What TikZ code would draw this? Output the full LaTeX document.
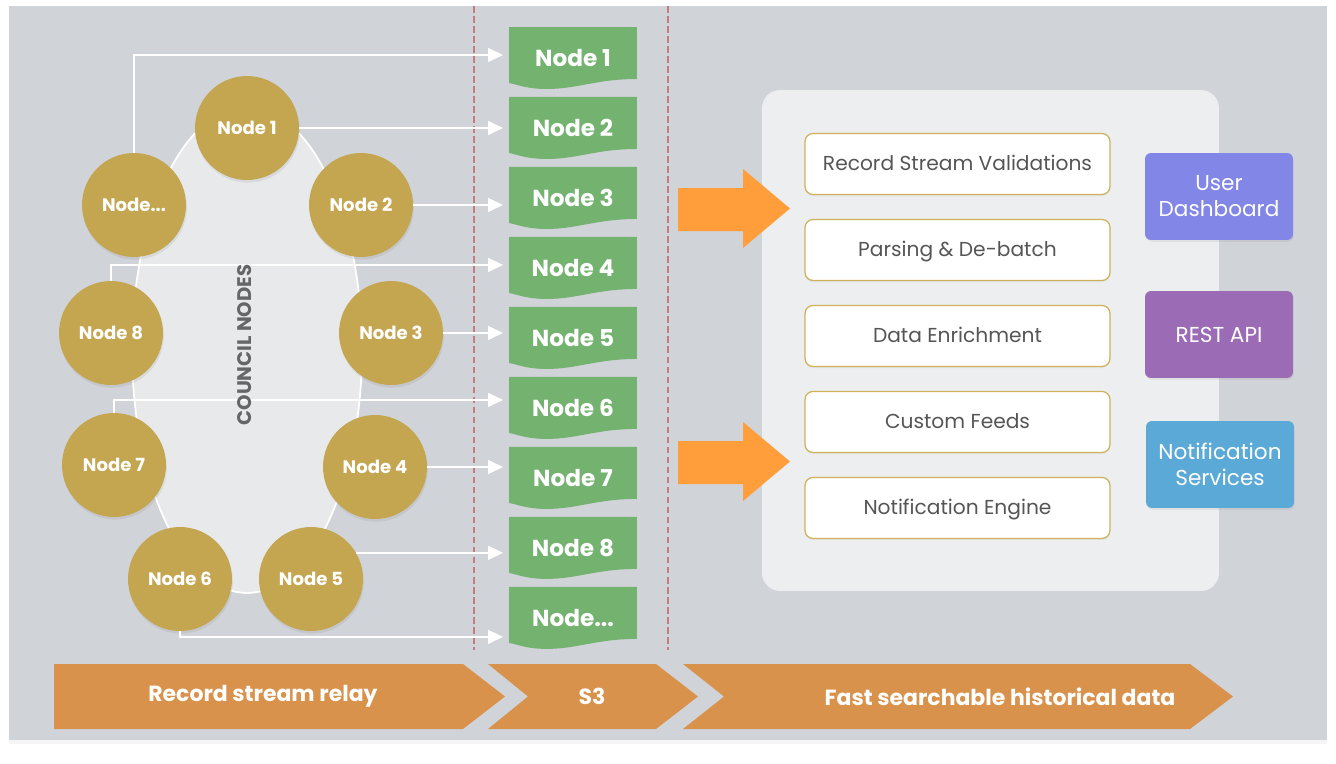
\documentclass[tikz,border=0pt]{standalone}
\usepackage{fontspec}
\setmainfont{Poppins}
\usetikzlibrary{positioning,arrows.meta,calc,shapes.geometric,shadows}
\definecolor{BgGray}{RGB}{208,211,216}
\definecolor{EllipseGray}{RGB}{232,233,235}
\definecolor{CouncilGold}{RGB}{196,165,80}
\definecolor{DocGreen}{RGB}{116,178,112}
\definecolor{SepRed}{RGB}{197,123,132}
\definecolor{ArrowOrange}{RGB}{255,158,58}
\definecolor{PanelGray}{RGB}{236,238,240}
\definecolor{BoxGold}{RGB}{208,176,88}
\definecolor{TextGray}{RGB}{85,85,85}
\definecolor{LabelGray}{RGB}{102,102,102}
\definecolor{DashBlue}{RGB}{130,134,230}
\definecolor{RestPurple}{RGB}{155,107,181}
\definecolor{NotifBlue}{RGB}{90,169,214}
\definecolor{ChevronOrange}{RGB}{216,146,75}
\tikzset{
  council/.style={circle,fill=CouncilGold,minimum size=2.08cm,inner sep=0pt,text=white,
    font=\fontsize{10.3}{12}\selectfont\bfseries,
    drop shadow={opacity=0.15,shadow xshift=0.5pt,shadow yshift=-1.5pt}},
  docnode/.style={minimum width=2.56cm,minimum height=1.24cm,inner sep=0pt,outer sep=0pt,text=white,
    font=\fontsize{13.2}{15}\selectfont\bfseries,
    path picture={
      \fill[DocGreen] (path picture bounding box.north west) -- (path picture bounding box.north east)
        -- ([yshift=0.2cm]path picture bounding box.south east)
        .. controls +(-40,0) and +(30,0) .. ([xshift=0.76cm]path picture bounding box.south west)
        .. controls +(-20,0) and +(10,2) .. ([yshift=0.12cm]path picture bounding box.south west)
        -- cycle;}},
  link/.style={draw=white,line width=0.8pt,-{Triangle[length=0.3cm,width=0.28cm]},shorten >=0.12cm},
  divider/.style={draw=SepRed,line width=0.6pt,dash pattern=on 3.8pt off 1.9pt},
  stagebox/.style={draw=BoxGold,line width=0.7pt,fill=white,rounded corners=0.16cm,minimum width=6.1cm,
    minimum height=1.22cm,outer sep=0pt,text height=1.6ex,text depth=0.3ex,text=TextGray,
    font=\fontsize{11.5}{13}\selectfont,
    drop shadow={opacity=0.08,shadow xshift=0pt,shadow yshift=-1pt}},
  appbox/.style={rounded corners=0.12cm,minimum width=2.96cm,minimum height=1.74cm,align=center,
    inner sep=1pt,text=white,font=\fontsize{12.3}{14.8}\selectfont,
    drop shadow={opacity=0.12,shadow xshift=0.5pt,shadow yshift=-1pt}},
  bigarrow/.style={fill=ArrowOrange},
  chevron/.style={fill=ChevronOrange},
  chevlabel/.style={text=white,font=\fontsize{12.5}{14}\selectfont\bfseries}
}
\begin{document}
\begin{tikzpicture}[x=0.02cm,y=-0.02cm]
  \useasboundingbox (0,0) rectangle (1336,764);
  \path[fill=BgGray,drop shadow={opacity=0.08,shadow xshift=0pt,shadow yshift=-2pt}] (9,6) rectangle (1327,740);

  % council ring
  \node[ellipse,draw=white,line width=1pt,fill=EllipseGray,minimum width=4.6cm,minimum height=9.72cm] (ring) at (247,350) {};
  \node[council] (c1) at (247,128) {Node 1};
  \node[council] (c2) at (361,205) {Node 2};
  \node[council] (cdots) at (134,205) {Node...};
  \node[council] (c8) at (111,333) {Node 8};
  \node[council] (c3) at (391,333) {Node 3};
  \node[council] (c7) at (114,465) {Node 7};
  \node[council] (c4) at (375,467) {Node 4};
  \node[council] (c6) at (180,579) {Node 6};
  \node[council] (c5) at (311,579) {Node 5};

  \draw[divider] (474,6) -- (474,650);
  \draw[divider] (668,6) -- (668,650);

  % S3 objects
  \node[docnode] (d1) at (573,58) {Node 1};
  \node[docnode,below=0.16cm of d1] (d2) {Node 2};
  \node[docnode,below=0.16cm of d2] (d3) {Node 3};
  \node[docnode,below=0.16cm of d3] (d4) {Node 4};
  \node[docnode,below=0.16cm of d4] (d5) {Node 5};
  \node[docnode,below=0.16cm of d5] (d6) {Node 6};
  \node[docnode,below=0.16cm of d6] (d7) {Node 7};
  \node[docnode,below=0.16cm of d7] (d8) {Node 8};
  \node[docnode,below=0.16cm of d8] (ddots) {Node...};

  \draw[link] (cdots.north) |- ([yshift=0.06cm]d1.west);
  \draw[link] (c1) -- (c1 -| d2.west);
  \draw[link] (c2) -- (c2 -| d3.west);
  \draw[link] (c8.north) |- ([yshift=0.06cm]d4.west);
  \draw[link] (c3) -- (c3 -| d5.west);
  \draw[link] (c7.north) |- ([yshift=0.16cm]d6.west);
  \draw[link] (c4) -- (c4 -| d7.west);
  \draw[link] (c5.30) -- (c5.30 -| d8.west);
  \draw[link] (c6.south) |- ([yshift=-0.38cm]ddots.west);
  \node[rotate=90,text=LabelGray,font=\fontsize{11.2}{13}\selectfont\bfseries] (ringlabel) at (245,345) {COUNCIL NODES};

  % processing panel
  \node[fill=PanelGray,rounded corners=0.36cm,minimum width=9.14cm,minimum height=10.02cm] (panel) at (990.5,340.5) {};
  \fill[bigarrow] (678,188) -- ++(65,0) -- ++(0,-19) -- (790,208.5) -- (743,248) -- ++(0,-17) -- (678,231) -- cycle;
  \fill[bigarrow] (678,441) -- ++(65,0) -- ++(0,-19) -- (790,461.5) -- (743,501) -- ++(0,-17) -- (678,484) -- cycle;

  \node[stagebox] (validate) at (957.5,164) {Record Stream Validations};
  \node[stagebox,below=0.5cm of validate] (parse) {Parsing \& De-batch};
  \node[stagebox,below=0.5cm of parse] (enrich) {Data Enrichment};
  \node[stagebox,below=0.5cm of enrich] (feeds) {Custom Feeds};
  \node[stagebox,below=0.5cm of feeds] (engine) {Notification Engine};

  \node[appbox,fill=DashBlue] (dash) at (1219,196.5) {User\\Dashboard};
  \node[appbox,fill=RestPurple] (rest) at (1219,334.5) {REST API};
  \node[appbox,fill=NotifBlue] (notif) at (1220,464.5) {Notification\\Services};

  % stages
  \fill[chevron] (54,664) -- (463,664) -- (505,696.5) -- (463,729) -- (54,729) -- cycle;
  \fill[chevron] (488,664) -- (656,664) -- (698,696.5) -- (656,729) -- (488,729) -- (528,696.5) -- cycle;
  \fill[chevron] (683,664) -- (1190,664) -- (1233,696.5) -- (1190,729) -- (683,729) -- (724,696.5) -- cycle;
  \node[chevlabel] (relay) at (263,696.5) {Record stream relay};
  \node[chevlabel] (s3) at (592,696.5) {S3};
  \node[chevlabel] (fast) at (1000,696.5) {Fast searchable historical data};
\end{tikzpicture}
\end{document}
